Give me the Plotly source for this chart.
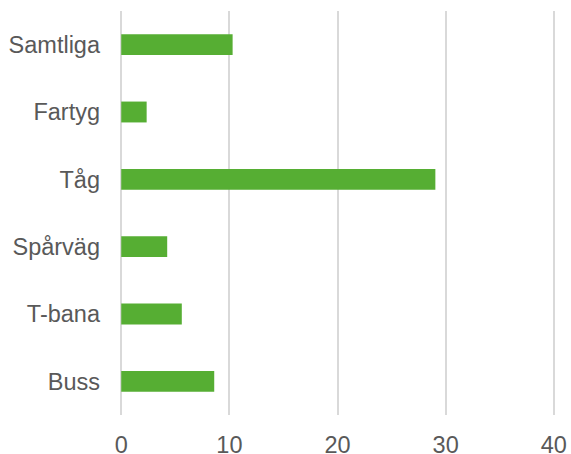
import plotly.graph_objects as go

categories = ["Buss", "T-bana", "Spårväg", "Tåg", "Fartyg", "Samtliga"]
values = [8.6, 5.6, 4.25, 29.05, 2.35, 10.3]
x_ticks = [0, 10, 20, 30, 40]

fig = go.Figure(go.Bar(
    x=values, y=categories, orientation="h",
    marker=dict(color="#56AE33", line=dict(width=0)),
    width=0.31,
))

fig.update_layout(
    width=571, height=454,
    margin=dict(l=118, r=14, t=11, b=39),
    paper_bgcolor="white", plot_bgcolor="white",
    font=dict(family="Liberation Sans, Arial, sans-serif", size=23.5, color="#595959"),
    showlegend=False,
    bargap=0.69,
)
fig.update_xaxes(
    range=[-0.3, 40.3], tickvals=x_ticks, showgrid=True, gridcolor="#D9D9D9", gridwidth=1.5,
    zeroline=False, showline=False, ticklabelstandoff=13, automargin=False,
    tickfont=dict(size=23.5, color="#595959"),
)
fig.update_yaxes(
    categoryorder="array", categoryarray=categories, showgrid=False, zeroline=False,
    showline=False, ticklabelstandoff=17, automargin=False,
    tickfont=dict(size=23.5, color="#595959"),
)
fig.write_html(
    "out.html",
    config={"displayModeBar": False},
    post_script="document.body.style.margin='0';document.body.style.overflow='hidden';",
)
